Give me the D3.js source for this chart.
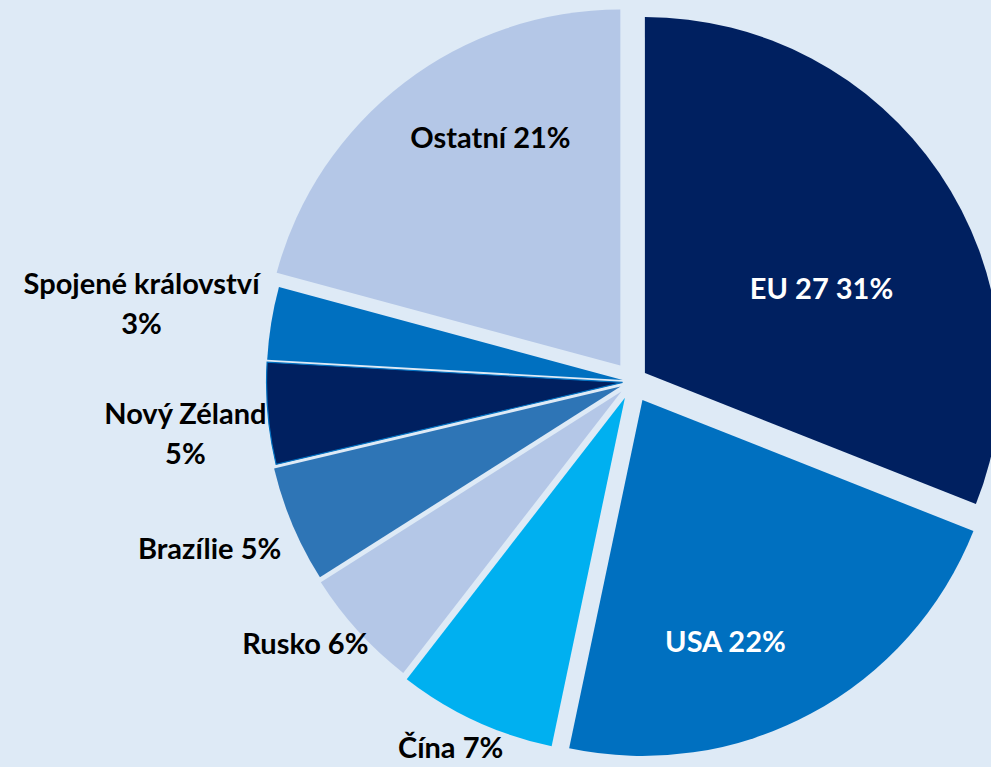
<!DOCTYPE html>
<html lang="cs">
<head>
<meta charset="utf-8">
<script src="https://cdn.jsdelivr.net/npm/d3@7"></script>
<style>
  html, body { margin: 0; padding: 0; background: #deeaf6; }
  svg { display: block; }
</style>
</head>
<body>
<div id="graf"></div>
<script>
// Data grafu (podíly v %)
const zeme = ["EU 27", "USA", "Čína", "Rusko", "Brazílie", "Nový Zéland", "Spojené království", "Ostatní"];
const podily = [31.0, 22.3, 7.2, 5.5, 5.3, 4.6, 3.3, 20.8];

// Vzhled výsečí
const barvy = ["#002060", "#0070c0", "#00b0f0", "#b4c7e7", "#2e75b6", "#002060", "#0070c0", "#b4c7e7"];
const vysunuti = [15, 21, 18, 15, 13, 10, 10, 20];   // odsazení výsečí od středu (px)
const barvaTextu = ["#fff", "#fff", "#000", "#000", "#000", "#000", "#000", "#000"];
const zalomit = [false, false, false, false, false, true, true, false];
// poloha popisků v násobcích poloměru (dx, dy od středu)
const polohaPopisku = [
    [0.531, -0.261], [0.261, 0.730], [-0.511, 1.030], [-0.919, 0.736],
    [-1.188, 0.469], [-1.256, 0.146], [-1.379, -0.218], [-0.399, -0.685]
];

function nakresliGraf() {
    const width = 991, height = 767;
    const cx = 632.5, cy = 381.5, r = 356;

    const data = zeme.map((z, i) => ({ zeme: z, podil: podily[i], i: i }));

    const svg = d3.select("#graf").append("svg")
        .attr("width", width)
        .attr("height", height);

    svg.append("rect")
        .attr("width", width)
        .attr("height", height)
        .attr("fill", "#deeaf6");

    const g = svg.append("g")
        .attr("transform", `translate(${cx},${cy})`);

    const pie = d3.pie()
        .sort(null)
        .value(d => d.podil)
        .startAngle(0)
        .endAngle(2 * Math.PI);

    const arc = d3.arc()
        .innerRadius(0)
        .outerRadius(r);

    const vysece = pie(data);

    // Výseče
    g.selectAll("path.vysec")
        .data(vysece)
        .join("path")
        .attr("class", "vysec")
        .attr("d", arc)
        .attr("fill", d => barvy[d.data.i])
        .attr("stroke", d => d.data.zeme === "Nový Zéland" ? "#0070c0" : "none")
        .attr("stroke-width", 1.2)
        .attr("transform", d => {
            const stred = (d.startAngle + d.endAngle) / 2;
            const o = vysunuti[d.data.i];
            return `translate(${Math.sin(stred) * o},${-Math.cos(stred) * o})`;
        });

    // Popisky
    const fontSize = 29;
    const popisky = g.selectAll("text.popisek")
        .data(vysece)
        .join("text")
        .attr("class", "popisek")
        .attr("text-anchor", "middle")
        .attr("font-family", "Lato, 'Open Sans', sans-serif")
        .attr("font-weight", "bold")
        .attr("font-size", fontSize)
        .attr("fill", d => barvaTextu[d.data.i])
        .attr("transform", d => {
            const p = polohaPopisku[d.data.i];
            return `translate(${p[0] * r},${p[1] * r})`;
        });

    popisky.each(function (d) {
        const t = d3.select(this);
        const pct = Math.round(d.data.podil) + "%";
        if (zalomit[d.data.i]) {
            t.append("tspan").attr("x", 0).attr("y", -20).attr("dy", "0.35em").text(d.data.zeme);
            t.append("tspan").attr("x", 0).attr("y", 20).attr("dy", "0.35em").text(pct);
        } else {
            t.append("tspan").attr("x", 0).attr("y", 0).attr("dy", "0.35em").text(d.data.zeme + " " + pct);
        }
    });
}

document.addEventListener("DOMContentLoaded", nakresliGraf);
</script>
</body>
</html>
